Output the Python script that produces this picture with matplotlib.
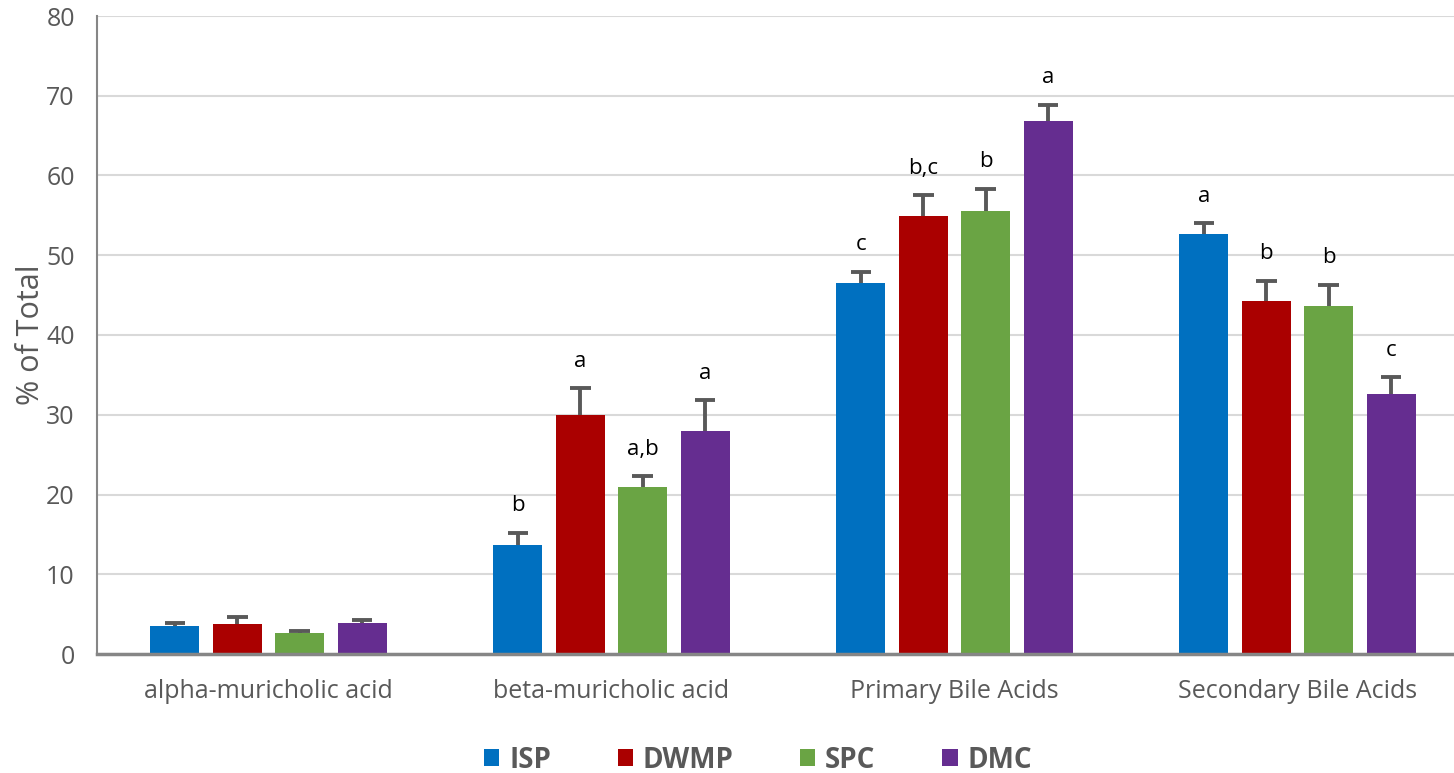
import numpy as np
import matplotlib.pyplot as plt

categories = ["alpha-muricholic acid", "beta-muricholic acid",
              "Primary Bile Acids", "Secondary Bile Acids"]
groups = ["ISP", "DWMP", "SPC", "DMC"]
colors = ["#0070C0", "#AA0000", "#6AA444", "#652D90"]

# mean % of total for each diet group, per category
isp = [3.5, 13.7, 46.5, 52.7]
dwmp = [3.8, 30.0, 54.9, 44.3]
spc = [2.6, 21.0, 55.6, 43.6]
dmc = [3.9, 28.0, 66.8, 32.6]

# standard errors (upper only)
isp_err = [0.4, 1.5, 1.4, 1.3]
dwmp_err = [0.8, 3.3, 2.6, 2.5]
spc_err = [0.3, 1.3, 2.7, 2.7]
dmc_err = [0.4, 3.8, 2.1, 2.1]

# significance letters
isp_sig = ["", "b", "c", "a"]
dwmp_sig = ["", "a", "b,c", "b"]
spc_sig = ["", "a,b", "b", "b"]
dmc_sig = ["", "a", "a", "c"]

values = [isp, dwmp, spc, dmc]
errors = [isp_err, dwmp_err, spc_err, dmc_err]
letters = [isp_sig, dwmp_sig, spc_sig, dmc_sig]

plt.rcParams['font.family'] = ['Open Sans', 'DejaVu Sans']

fig = plt.figure(figsize=(14.54, 7.73), dpi=100)
ax = fig.add_axes([97 / 1454, 119 / 773, 1372 / 1454, 638 / 773])

x = np.arange(len(categories))
pitch = 0.182
width = 0.143
cap = 0.03
gray = "#595959"

for i, name in enumerate(groups):
    pos = x + (i - 1.5) * pitch
    vals = np.array(values[i])
    tops = vals + np.array(errors[i])
    ax.bar(pos, vals, width, color=colors[i], label=name, zorder=2)
    # upper error bars only
    ax.vlines(pos, vals, tops, color=gray, linewidth=2.8, zorder=3)
    ax.hlines(tops, pos - cap, pos + cap, color=gray, linewidth=2.8, zorder=3)
    for p, t, s in zip(pos, tops, letters[i]):
        if s:
            ax.text(p, t + 3.4, s, ha="center", va="center",
                    fontsize=16, color="black")

ax.set_xlim(-0.5, len(categories) - 0.5)
ax.set_ylim(0, 80)
ax.set_yticks(range(0, 81, 10))
ax.set_xticks(x)
ax.set_xticklabels(categories)
ax.tick_params(axis="x", length=0, pad=18, labelsize=18, labelcolor=gray)
ax.tick_params(axis="y", length=0, pad=16, labelsize=18, labelcolor=gray)
ax.yaxis.grid(True, color="#D9D9D9", linewidth=1.5, zorder=0)
ax.set_axisbelow(True)

for side in ["top", "right"]:
    ax.spines[side].set_visible(False)
ax.spines["left"].set_color("#868686")
ax.spines["left"].set_linewidth(1.5)
ax.spines["bottom"].set_color("#868686")
ax.spines["bottom"].set_linewidth(2.5)

ax.set_ylabel("% of Total", fontsize=22, color=gray)
ax.yaxis.set_label_coords(-51 / 1372, 0.5)

leg = fig.legend(loc="center", bbox_to_anchor=(758 / 1454, 13 / 773),
                 ncol=4, frameon=False, handlelength=0.55, handleheight=0.55,
                 handletextpad=0.35, columnspacing=2.4,
                 prop={"size": 20, "weight": "bold"})
for t in leg.get_texts():
    t.set_color(gray)

fig.savefig("out.png", dpi=100)
